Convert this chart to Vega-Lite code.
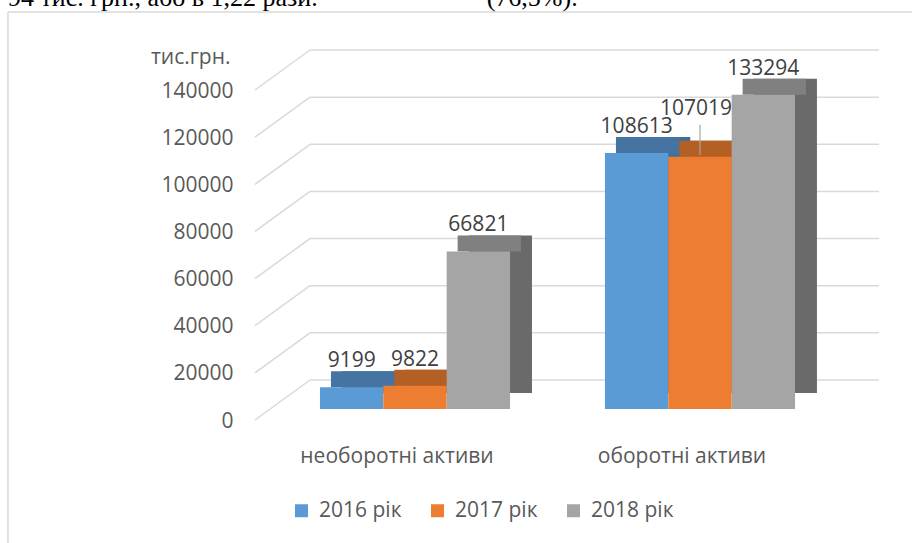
{
  "$schema": "https://vega.github.io/schema/vega-lite/v6.json",
  "width": 605,
  "height": 330,
  "autosize": {"type": "none"},
  "padding": {"left": 255, "top": 79, "right": 52, "bottom": 134},
  "background": "white",
  "config": {
    "view": {"stroke": null},
    "font": "Open Sans",
    "axisX": {"domain": false, "ticks": false, "grid": false, "labelOffset": -18, "labelPadding": 36, "labelFontSize": 21, "labelColor": "#595959", "labelFont": "Open Sans", "labelAngle": 0, "labelLimit": 400},
    "axisY": {"domain": false, "ticks": false, "grid": false, "labelPadding": 22, "labelOffset": 12, "labelFontSize": 21, "labelColor": "#595959", "labelFont": "Open Sans"}
  },
  "title": {
    "text": "94 тис. грн., або в 1,22 рази.\u00a0\u00a0\u00a0\u00a0\u00a0\u00a0\u00a0\u00a0\u00a0\u00a0\u00a0\u00a0\u00a0\u00a0\u00a0\u00a0\u00a0\u00a0\u00a0\u00a0\u00a0\u00a0\u00a0\u00a0\u00a0\u00a0(76,5%).",
    "frame": "group",
    "anchor": "start",
    "orient": "top",
    "offset": 0,
    "dy": 21,
    "dx": -247,
    "font": "Liberation Serif",
    "fontSize": 26,
    "fontWeight": "normal",
    "color": "#000000",
    "baseline": "alphabetic"
  },
  "data": {
    "values": [
      {"category": "необоротні активи", "year": "2016 рік", "value": 9199},
      {"category": "необоротні активи", "year": "2017 рік", "value": 9822},
      {"category": "необоротні активи", "year": "2018 рік", "value": 66821},
      {"category": "оборотні активи", "year": "2016 рік", "value": 108613},
      {"category": "оборотні активи", "year": "2017 рік", "value": 107019},
      {"category": "оборотні активи", "year": "2018 рік", "value": 133294}
    ]
  },
  "layer": [
    {
      "data": {"values": [{"tick": 140000}]},
      "mark": {"type": "rule", "color": "#d9d9d9", "strokeWidth": 1.5, "xOffset": -312, "x2Offset": 120, "yOffset": -67, "y2Offset": -67},
      "encoding": {
        "x": {"datum": "необоротні активи", "type": "nominal", "bandPosition": 0, "title": null},
        "x2": {"datum": "оборотні активи", "bandPosition": 1},
        "y": {"field": "tick", "type": "quantitative"},
        "y2": {"field": "tick"}
      }
    },
    {
      "data": {"values": [{"tick": 140000}]},
      "mark": {"type": "rule", "color": "#d9d9d9", "strokeWidth": 1.5, "xOffset": -312, "yOffset": -67, "y2Offset": 140},
      "encoding": {
        "x": {"datum": "необоротні активи", "type": "nominal", "bandPosition": 0, "title": null},
        "y": {"field": "tick", "type": "quantitative"},
        "y2": {"datum": 0}
      }
    },
    {
      "data": {"values": [{"tick": 0}, {"tick": 20000}, {"tick": 40000}, {"tick": 60000}, {"tick": 80000}, {"tick": 100000}, {"tick": 120000}, {"tick": 140000}]},
      "mark": {"type": "rule", "color": "#d9d9d9", "strokeWidth": 1.5, "xOffset": -10, "x2Offset": 84, "yOffset": -29, "y2Offset": -29},
      "encoding": {
        "x": {"datum": "необоротні активи", "type": "nominal", "bandPosition": 0, "title": null},
        "x2": {"datum": "оборотні активи", "bandPosition": 1},
        "y": {"field": "tick", "type": "quantitative"},
        "y2": {"field": "tick"}
      }
    },
    {
      "data": {"values": [{"tick": 0}, {"tick": 20000}, {"tick": 40000}, {"tick": 60000}, {"tick": 80000}, {"tick": 100000}, {"tick": 120000}, {"tick": 140000}]},
      "mark": {"type": "rule", "color": "#d9d9d9", "strokeWidth": 1.5, "xOffset": -65, "x2Offset": -10, "yOffset": 11, "y2Offset": -29},
      "encoding": {
        "x": {"datum": "необоротні активи", "type": "nominal", "bandPosition": 0, "title": null},
        "x2": {"datum": "необоротні активи", "bandPosition": 0},
        "y": {"field": "tick", "type": "quantitative"},
        "y2": {"field": "tick"}
      }
    },
    {
      "mark": {"type": "bar", "yOffset": -16, "y2Offset": -16},
      "encoding": {
        "x": {"field": "category", "type": "nominal", "title": null},
        "xOffset": {"field": "year", "type": "nominal", "scale": {"range": [22, 212]}},
        "y": {"field": "value", "type": "quantitative"},
        "y2": {"datum": 0},
        "color": {"field": "year", "type": "nominal", "legend": null,
          "scale": {"domain": ["2016 рік", "2017 рік", "2018 рік"], "range": ["#3f6f9e", "#b0581f", "#6a6a6a"]}}
      }
    },
    {
      "mark": {"type": "bar", "yOffset": -16, "y2Offset": 0},
      "encoding": {
        "x": {"field": "category", "type": "nominal", "title": null},
        "xOffset": {"field": "year", "type": "nominal", "scale": {"range": [11, 201]}},
        "y": {"field": "value", "type": "quantitative"},
        "y2": {"field": "value"},
        "color": {"field": "year", "type": "nominal", "legend": null,
          "scale": {"domain": ["2016 рік", "2017 рік", "2018 рік"], "range": ["#4574a2", "#b45f24", "#808080"]}}
      }
    },
    {
      "mark": {"type": "bar"},
      "encoding": {
        "x": {"field": "category", "type": "nominal", "title": null,
          "scale": {"domain": ["необоротні активи", "оборотні активи"], "paddingInner": 0.333, "paddingOuter": 0.228}},
        "xOffset": {"field": "year", "type": "nominal", "scale": {"paddingInner": 0, "paddingOuter": 0}},
        "y": {"field": "value", "type": "quantitative",
          "scale": {"domain": [0, 140000], "nice": false},
          "axis": {"title": "тис.грн.", "values": [0, 20000, 40000, 60000, 80000, 100000, 120000, 140000], "format": "d",
            "titleAngle": 0, "titleAlign": "right", "titleBaseline": "middle", "titleX": -25, "titleY": -22, "titleFontSize": 21, "titleFontWeight": "normal", "titleColor": "#595959", "titleFont": "Open Sans"}},
        "color": {"field": "year", "type": "nominal",
          "scale": {"domain": ["2016 рік", "2017 рік", "2018 рік"], "range": ["#5B9BD5", "#ED7D31", "#A5A5A5"]},
          "legend": {"title": null, "orient": "none", "legendX": 36, "legendY": 421, "direction": "horizontal", "symbolType": "square", "symbolSize": 169, "symbolStrokeWidth": 0, "labelFontSize": 21, "labelFont": "Open Sans", "labelColor": "#595959", "columnPadding": 25, "labelOffset": 7, "padding": 0}}
      }
    },
    {
      "transform": [{"filter": "!(datum.category === 'оборотні активи' && datum.year === '2017 рік')"}],
      "mark": {"type": "text", "dy": -20, "baseline": "alphabetic", "fontSize": 21, "font": "Open Sans", "color": "#404040"},
      "encoding": {
        "x": {"field": "category", "type": "nominal", "title": null},
        "xOffset": {"field": "year", "type": "nominal"},
        "y": {"field": "value", "type": "quantitative"},
        "text": {"field": "value", "type": "quantitative", "format": "d"}
      }
    },
    {
      "transform": [{"filter": "datum.category === 'оборотні активи' && datum.year === '2017 рік'"}],
      "mark": {"type": "text", "dy": -42, "dx": -4, "baseline": "alphabetic", "fontSize": 21, "font": "Open Sans", "color": "#404040"},
      "encoding": {
        "x": {"field": "category", "type": "nominal", "title": null},
        "xOffset": {"field": "year", "type": "nominal"},
        "y": {"field": "value", "type": "quantitative"},
        "text": {"field": "value", "type": "quantitative", "format": "d"}
      }
    },
    {
      "transform": [{"filter": "datum.category === 'оборотні активи' && datum.year === '2017 рік'"}],
      "mark": {"type": "rule", "color": "#a6a6a6", "strokeWidth": 1.2, "yOffset": -32, "y2Offset": -2},
      "encoding": {
        "x": {"field": "category", "type": "nominal", "title": null},
        "xOffset": {"field": "year", "type": "nominal"},
        "y": {"field": "value", "type": "quantitative"},
        "y2": {"field": "value"}
      }
    }
  ],
  "resolve": {"scale": {"color": "independent", "xOffset": "independent"}}
}
